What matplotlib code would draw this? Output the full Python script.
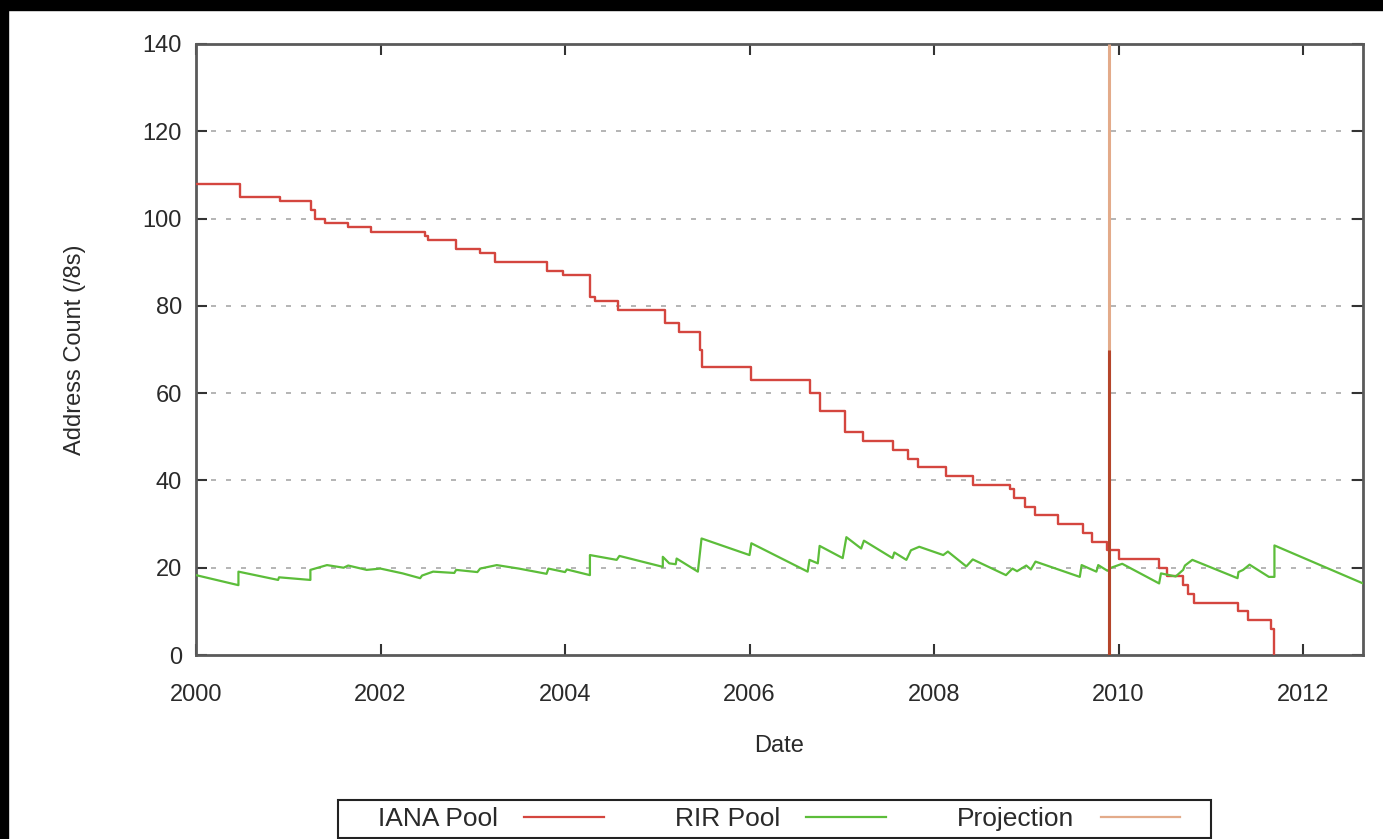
import numpy as np
import matplotlib
matplotlib.use('Agg')
import matplotlib.pyplot as plt
from matplotlib.patches import Rectangle

plt.rcParams['font.family'] = ['Liberation Sans', 'DejaVu Sans']

# IANA pool (/8s), step changes: (decimal year, value)
iana_t = [2000.00, 2000.48, 2000.91, 2001.25, 2001.29, 2001.40, 2001.65, 2001.90,
          2002.48, 2002.52, 2002.82, 2003.08, 2003.24, 2003.81, 2003.98, 2004.27,
          2004.32, 2004.57, 2005.08, 2005.24, 2005.46, 2005.49, 2006.02, 2006.66,
          2006.76, 2007.04, 2007.23, 2007.55, 2007.72, 2007.83, 2008.13, 2008.42,
          2008.82, 2008.87, 2008.99, 2009.09, 2009.34, 2009.61, 2009.71, 2009.88,
          2010.01, 2010.44, 2010.53, 2010.70, 2010.75, 2010.82, 2011.30, 2011.40,
          2011.65, 2011.69]
iana_v = [108, 105, 104, 102, 100, 99, 98, 97,
          96, 95, 93, 92, 90, 88, 87, 82,
          81, 79, 76, 74, 70, 66, 63, 60,
          56, 51, 49, 47, 45, 43, 41, 39,
          38, 36, 34, 32, 30, 28, 26, 24,
          22, 20, 18, 16, 14, 12, 10, 8,
          6, 0]

# RIR pool (/8s)
rir_t = [2000.00, 2000.46, 2000.46, 2000.89, 2000.90, 2001.24, 2001.24, 2001.42,
         2001.60, 2001.65, 2001.85, 2002.00, 2002.24, 2002.43, 2002.45, 2002.57,
         2002.80, 2002.82, 2003.05, 2003.08, 2003.26, 2003.50, 2003.80, 2003.82,
         2004.00, 2004.02, 2004.27, 2004.27, 2004.56, 2004.59, 2005.06, 2005.06,
         2005.13, 2005.20, 2005.21, 2005.44, 2005.48, 2006.00, 2006.02, 2006.63,
         2006.65, 2006.74, 2006.76, 2007.01, 2007.05, 2007.21, 2007.24, 2007.55,
         2007.57, 2007.70, 2007.75, 2007.84, 2008.10, 2008.15, 2008.35, 2008.42,
         2008.78, 2008.85, 2008.90, 2009.00, 2009.05, 2009.10, 2009.58, 2009.60,
         2009.76, 2009.78, 2009.88, 2009.92, 2010.04, 2010.44, 2010.46, 2010.62,
         2010.70, 2010.72, 2010.80, 2011.29, 2011.30, 2011.35, 2011.42, 2011.63,
         2011.69, 2011.69, 2012.65]
rir_v = [18.3, 16.0, 19.1, 17.2, 17.8, 17.2, 19.5, 20.6,
         20.0, 20.5, 19.5, 19.8, 18.7, 17.6, 18.2, 19.1,
         18.8, 19.5, 19.0, 19.8, 20.6, 19.8, 18.6, 19.8,
         19.0, 19.6, 18.3, 22.9, 21.8, 22.7, 20.2, 22.5,
         21.0, 20.8, 22.1, 19.1, 26.7, 22.9, 25.6, 19.1,
         21.8, 21.0, 25.0, 22.2, 27.0, 24.4, 26.2, 22.2,
         23.5, 21.8, 24.0, 24.8, 22.9, 23.7, 20.3, 21.9,
         18.3, 19.8, 19.2, 20.5, 19.6, 21.4, 17.9, 20.6,
         19.1, 20.6, 19.3, 20.0, 20.9, 16.4, 18.7, 18.0,
         19.5, 20.5, 21.8, 17.6, 19.0, 19.5, 20.7, 17.9,
         17.9, 25.1, 16.4]

# projection date and the IANA spike drawn on it
proj_t = 2009.90
proj_spike = 70

x_ticks = [2000, 2002, 2004, 2006, 2008, 2010, 2012]
y_ticks = [0, 20, 40, 60, 80, 100, 120, 140]

red = '#d4463f'
green = '#5cbd3a'
tan = '#e3ab8a'
frame = '#5a5a5a'
txt = '#2a2a2a'

fig = plt.figure(figsize=(13.83, 8.39), dpi=100)
ax = fig.add_axes([196 / 1383, 1 - 655 / 839, 1167 / 1383, 611 / 839])

# dotted horizontal grid
for y in y_ticks[1:-1]:
    ax.axhline(y, color='#a8a8a8', lw=1.2, ls=(0, (3, 6)), zorder=1)

ax.plot(iana_t, iana_v, drawstyle='steps-post', color=red, lw=1.7, label='IANA Pool', zorder=3)
ax.plot(rir_t, rir_v, color=green, lw=1.6, label='RIR Pool', zorder=3)
ax.vlines(proj_t, 0, 140, color=tan, lw=2.2, label='Projection', zorder=4)
ax.vlines(proj_t, 0, proj_spike, color='#b5452a', lw=2.2, zorder=5)

ax.set_xlim(2000, 2012.65)
ax.set_ylim(0, 140)
ax.set_xticks(x_ticks)
ax.set_yticks(y_ticks)
ax.set_xticklabels([str(x) for x in x_ticks])
ax.tick_params(direction='in', length=8, width=1.5, color='#333333',
               top=True, right=True, labelsize=17, labelcolor=txt)
ax.tick_params(axis='x', pad=21)
ax.tick_params(axis='y', pad=10)
for s in ax.spines.values():
    s.set_color(frame)
    s.set_linewidth(2)

ax.set_xlabel('Date', fontsize=17, color=txt, labelpad=21)
ax.set_ylabel('Address Count (/8s)', fontsize=17, color=txt, labelpad=41)

# legend at bottom, frame drawn separately
h = [plt.Line2D([], [], color=c, lw=1.6) for c in (red, green, tan)]
leg = fig.legend(h, ['IANA Pool', 'RIR Pool', 'Projection'], ncol=3, markerfirst=False,
                 loc='center left', bbox_to_anchor=(378 / 1383, 1 - 819 / 839),
                 frameon=False, fontsize=19, handlelength=3.0, handletextpad=1.0,
                 columnspacing=2.7, borderaxespad=0, borderpad=0)
for t in leg.get_texts():
    t.set_color(txt)
fig.patches.append(Rectangle((338 / 1383, 1 / 839), 873 / 1383, 38 / 839,
                             transform=fig.transFigure, fill=False,
                             edgecolor='#222222', lw=1.5, zorder=9))

# black border on top and left edge
fig.patches.append(Rectangle((0, 1 - 10 / 839), 1, 10 / 839, transform=fig.transFigure,
                             color='black', zorder=10))
fig.patches.append(Rectangle((0, 0), 8 / 1383, 1, transform=fig.transFigure,
                             color='black', zorder=10))

fig.savefig('out.png', dpi=100)
